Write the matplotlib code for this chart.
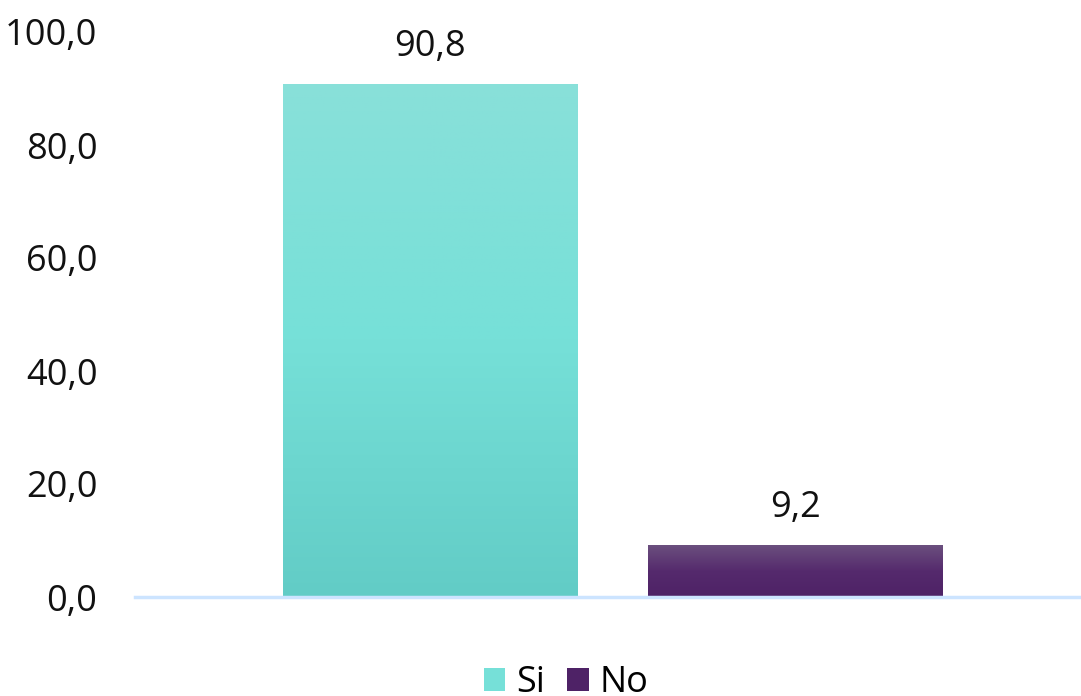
import matplotlib.pyplot as plt
import numpy as np
from matplotlib.colors import LinearSegmentedColormap
from matplotlib.patches import Patch

plt.rcParams['font.family'] = ['Open Sans', 'DejaVu Sans']

series = ['Si', 'No']
values = [90.8, 9.2]
labels = ['90,8', '9,2']
yticks = [0, 20, 40, 60, 80, 100]
ytick_labels = ['0,0', '20,0', '40,0', '60,0', '80,0', '100,0']

# gradients, bottom -> top
grads = [
    ['#62CCC6', '#76E0D8', '#89E0DA'],
    ['#4E2266', '#552A6D', '#6B4F7E'],
]

fig = plt.figure(figsize=(10.81, 6.96), dpi=100)
ax = fig.add_axes([135 / 1081, 1 - 597 / 696, 946 / 1081, 565 / 696])

off = 5 / 946
x = [-0.5 * 365.5 / 946 + off, 0.5 * 365.5 / 946 + off]
w = 295 / 946
bars = ax.bar(x, values, width=w, color='none', zorder=2)
for b, g, v, lab in zip(bars, grads, values, labels):
    cmap = LinearSegmentedColormap.from_list('g', g)
    x0 = b.get_x()
    im = ax.imshow(np.linspace(0, 1, 256).reshape(-1, 1), cmap=cmap, origin='lower',
                   extent=[x0, x0 + w, 0, v], aspect='auto', zorder=1)
    im.set_clip_path(b)
    ax.text(b.get_x() + w / 2, v + 6.6, lab, ha='center', va='center', fontsize=26, color='#111111')

ax.set_xlim(-0.5, 0.5)
ax.set_ylim(0, 100)
ax.set_yticks(yticks)
ax.set_yticklabels(ytick_labels, fontsize=26, color='#111111')
ax.tick_params(axis='y', length=0, pad=27)
ax.set_xticks([])
for s in ['top', 'right', 'left']:
    ax.spines[s].set_visible(False)
ax.spines['bottom'].set_color('#CCE4FF')
ax.spines['bottom'].set_linewidth(2.5)

handles = [Patch(facecolor=grads[0][1]), Patch(facecolor=grads[1][0])]
fig.legend(handles, series, loc='center', bbox_to_anchor=(566 / 1081, 1 - 683 / 696),
           ncol=2, frameon=False, fontsize=26, handlelength=0.6, handleheight=0.6,
           handletextpad=0.3, columnspacing=0.6)

fig.savefig('out.png', dpi=100)
